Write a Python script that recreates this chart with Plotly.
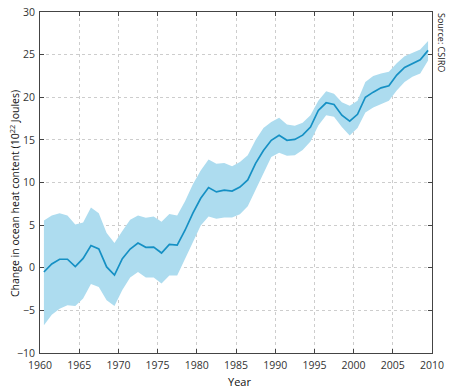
import plotly.graph_objects as go

years = list(range(1960, 2010))
mean_heat = [-0.5, 0.45, 1.0, 1.0, 0.13, 1.1, 2.6, 2.2, 0.1, -0.85,
             1.07, 2.2, 2.9, 2.4, 2.43, 1.73, 2.75, 2.65, 4.4, 6.4,
             8.15, 9.4, 8.9, 9.1, 9.0, 9.47, 10.3, 12.25, 13.75, 14.95,
             15.55, 14.95, 15.05, 15.55, 16.5, 18.45, 19.35, 19.15, 17.9, 17.2,
             18.0, 20.0, 20.6, 21.1, 21.35, 22.6, 23.5, 24.0, 24.4, 25.5]
upper_heat = [5.55, 6.14, 6.4, 6.14, 5.06, 5.3, 7.06, 6.4, 4.08, 2.9,
              4.3, 5.64, 6.14, 5.87, 6.0, 5.4, 6.3, 6.14, 7.8, 9.8,
              11.4, 12.7, 12.2, 12.3, 11.9, 12.4, 13.2, 15.0, 16.4, 17.1,
              17.6, 16.8, 16.65, 17.0, 17.9, 19.6, 20.7, 20.4, 19.4, 19.0,
              19.6, 21.8, 22.5, 22.8, 23.0, 24.0, 24.8, 25.2, 25.6, 26.6]
lower_heat = [-6.75, -5.5, -4.8, -4.4, -4.5, -3.6, -1.9, -2.25, -3.8, -4.5,
              -2.6, -1.15, -0.5, -1.15, -1.15, -1.85, -0.9, -0.9, 1.0, 3.0,
              4.95, 6.0, 5.75, 5.9, 5.9, 6.27, 7.2, 9.3, 11.1, 13.0,
              13.5, 13.15, 13.2, 13.8, 14.8, 16.7, 17.9, 17.7, 16.5, 15.5,
              16.4, 18.2, 18.8, 19.2, 19.6, 20.8, 21.8, 22.4, 22.8, 24.3]
x_ticks = list(range(1960, 2011, 5))
y_ticks = list(range(-10, 31, 5))

xs = [y + 0.5 for y in years]
band_x = xs + xs[::-1]
band_y = upper_heat + lower_heat[::-1]

fig = go.Figure()
fig.add_trace(go.Scatter(x=band_x, y=band_y, fill="toself", mode="lines",
                         line=dict(width=0), fillcolor="#addcef",
                         hoverinfo="skip", showlegend=False))
fig.add_trace(go.Scatter(x=xs, y=mean_heat, mode="lines",
                         line=dict(color="#1590c4", width=1.7),
                         showlegend=False))

axis_common = dict(showline=True, linecolor="#444", linewidth=1, mirror="ticks",
                   ticks="inside", ticklen=4, tickcolor="#444",
                   showgrid=True, gridcolor="#cdcdcd", griddash="dot", gridwidth=1,
                   zeroline=False, automargin=False,
                   tickfont=dict(size=10.5, color="#333"))

fig.update_xaxes(range=[1960, 2010], tickvals=x_ticks, ticklabelstandoff=2,
                 **axis_common)
fig.update_yaxes(range=[-10, 30], tickvals=y_ticks, ticklabelstandoff=2,
                 **axis_common)

fig.add_annotation(text="Change in ocean heat content (10<sup>22</sup> Joules)",
                   textangle=-90, xref="paper", yref="paper", x=0, y=0.466,
                   xanchor="center", yanchor="middle", xshift=-26,
                   showarrow=False, font=dict(size=10.5, color="#111"))
fig.add_annotation(text="Year", xref="paper", yref="paper", x=0.51, y=0,
                   xanchor="center", yanchor="middle", yshift=-28,
                   showarrow=False, font=dict(size=11, color="#111"))
fig.add_annotation(text="Source: CSIRO", textangle=90, xref="paper", yref="paper",
                   x=1.0, y=1.0, xanchor="left", yanchor="top", xshift=2,
                   borderpad=0, showarrow=False, font=dict(size=9, color="#222"))

fig.update_layout(width=450, height=390,
                  margin=dict(l=40, r=18, t=12, b=37),
                  plot_bgcolor="white", paper_bgcolor="white",
                  font=dict(family="Open Sans, sans-serif"))

# remove the browser's default 8px body margin so the figure fills the window
fig.write_html("out.html", config={"displayModeBar": False},
               post_script="document.body.style.margin='0px';")
